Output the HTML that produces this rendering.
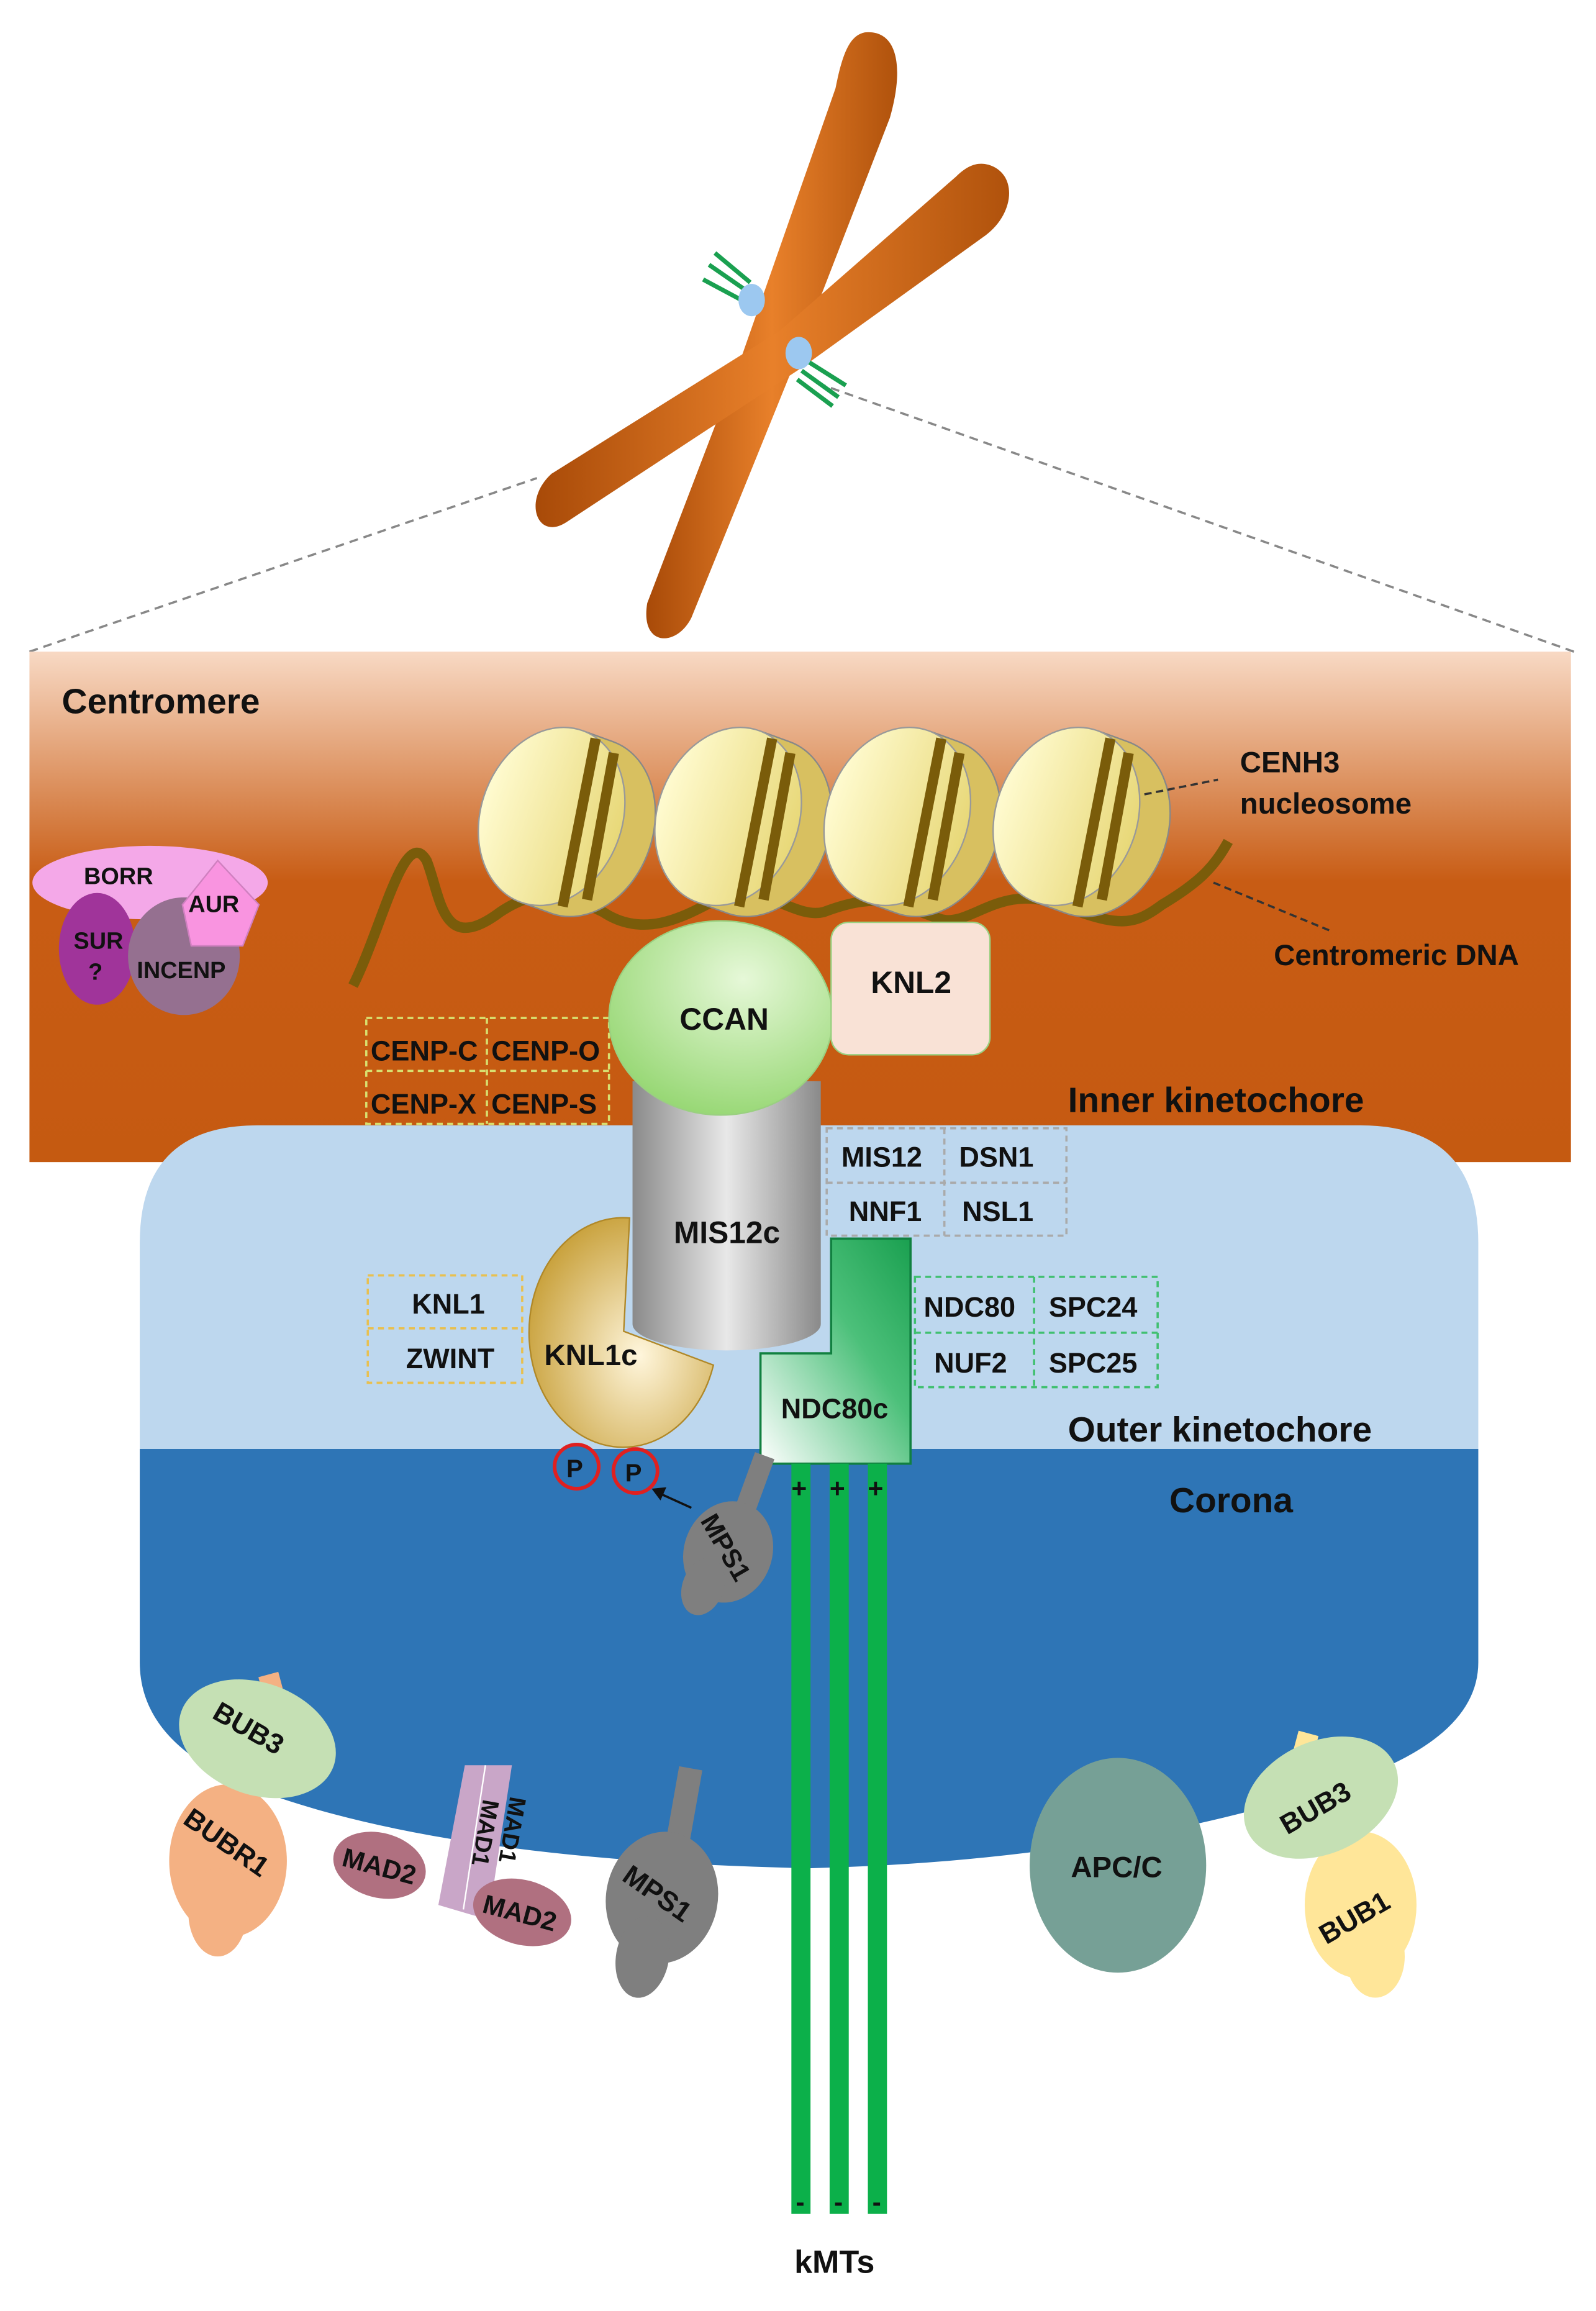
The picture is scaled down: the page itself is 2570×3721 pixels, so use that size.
<!DOCTYPE html>
<html><head><meta charset="utf-8"><style>html,body{margin:0;padding:0;background:#fff}svg{display:block}text{font-family:"Liberation Sans",sans-serif;font-weight:bold;fill:#111}</style></head><body>
<svg width="2570" height="3721" viewBox="0 0 1085 1571" xmlns="http://www.w3.org/2000/svg">
<defs>
<linearGradient id="cen" x1="0" y1="0" x2="0" y2="1"><stop offset="0" stop-color="#f8d9c4"/><stop offset="0.45" stop-color="#c85c14"/><stop offset="1" stop-color="#c55a11"/></linearGradient>
<linearGradient id="chr" x1="0" y1="0" x2="1" y2="0"><stop offset="0" stop-color="#a84a08"/><stop offset="0.5" stop-color="#e8802a"/><stop offset="1" stop-color="#b0520c"/></linearGradient>
<radialGradient id="ccan" cx="0.6" cy="0.3" r="0.8"><stop offset="0" stop-color="#e6f8d8"/><stop offset="1" stop-color="#8fd46a"/></radialGradient>
<linearGradient id="mis" x1="0" y1="0" x2="1" y2="0"><stop offset="0" stop-color="#8a8a8a"/><stop offset="0.5" stop-color="#e8e8e8"/><stop offset="1" stop-color="#8a8a8a"/></linearGradient>
<radialGradient id="knl" cx="0.6" cy="0.6" r="0.7"><stop offset="0" stop-color="#fff6dc"/><stop offset="1" stop-color="#c49a2e"/></radialGradient>
<linearGradient id="ndc" x1="0" y1="1" x2="1" y2="0"><stop offset="0" stop-color="#ffffff"/><stop offset="0.6" stop-color="#4cc07a"/><stop offset="1" stop-color="#1aa050"/></linearGradient>
<linearGradient id="nuc" x1="0" y1="0" x2="1" y2="0"><stop offset="0" stop-color="#fffbd0"/><stop offset="1" stop-color="#e8d878"/></linearGradient>
</defs>
<line x1="20" y1="443" x2="365" y2="325" stroke="#888" stroke-width="1.5" stroke-dasharray="6,4"/>
<line x1="1070" y1="443" x2="560" y2="262" stroke="#888" stroke-width="1.5" stroke-dasharray="6,4"/>
<g>
<path d="M588,22 C610,20 615,45 605,80 L545,235 L470,420 C460,440 435,440 440,410 L505,240 L568,60 C573,35 578,24 588,22 Z" fill="url(#chr)"/>
<path d="M672,112 C692,118 690,145 670,160 L545,250 L385,355 C365,368 355,340 375,322 L530,225 L650,120 C658,112 665,110 672,112 Z" fill="url(#chr)"/>
<g stroke="#1aa050" stroke-width="3"><line x1="478" y1="190" x2="506" y2="205"/><line x1="482" y1="180" x2="508" y2="198"/><line x1="486" y1="172" x2="510" y2="192"/><line x1="548" y1="245" x2="575" y2="262"/><line x1="545" y1="252" x2="570" y2="270"/><line x1="542" y1="258" x2="566" y2="276"/></g>
<ellipse cx="511" cy="204" rx="9" ry="11" fill="#9cc8f0"/><ellipse cx="543" cy="240" rx="9" ry="11" fill="#9cc8f0"/>
</g>
<rect x="20" y="443" width="1048" height="347" fill="url(#cen)"/>
<path d="M175,765 L925,765 Q1005,765 1005,845 L1005,985 L95,985 L95,845 Q95,765 175,765 Z" fill="#bdd7ee"/>
<path d="M95,985 L1005,985 L1005,1130 Q1005,1180 920,1210 Q760,1265 550,1270 Q300,1265 170,1215 Q95,1185 95,1130 Z" fill="#2e75b6"/>
<path d="M240,670 C260,630 275,560 290,585 C300,610 300,650 340,620 C370,600 390,610 410,620 C440,640 470,620 490,610 C520,600 540,625 560,620 C600,605 610,615 640,625 C660,630 680,600 720,615 C760,630 770,630 790,615 C815,600 825,590 835,572" fill="none" stroke="#7a5c0a" stroke-width="7"/>
<g>
<g transform="translate(375,555) rotate(20)"><path d="M0,-62 L22,-62 A48,62 0 0 1 22,62 L0,62 Z" fill="#d8c060" stroke="#888"/><ellipse cx="0" cy="0" rx="48" ry="62" fill="url(#nuc)" stroke="#999" stroke-width="1"/><path d="M10,-60 L28,55" stroke="#7a5c0a" stroke-width="7"/><path d="M25,-55 L42,45" stroke="#7a5c0a" stroke-width="7"/></g>
<g transform="translate(495,555) rotate(20)"><path d="M0,-62 L22,-62 A48,62 0 0 1 22,62 L0,62 Z" fill="#d8c060" stroke="#888"/><ellipse cx="0" cy="0" rx="48" ry="62" fill="url(#nuc)" stroke="#999" stroke-width="1"/><path d="M10,-60 L28,55" stroke="#7a5c0a" stroke-width="7"/><path d="M25,-55 L42,45" stroke="#7a5c0a" stroke-width="7"/></g>
<g transform="translate(610,555) rotate(20)"><path d="M0,-62 L22,-62 A48,62 0 0 1 22,62 L0,62 Z" fill="#d8c060" stroke="#888"/><ellipse cx="0" cy="0" rx="48" ry="62" fill="url(#nuc)" stroke="#999" stroke-width="1"/><path d="M10,-60 L28,55" stroke="#7a5c0a" stroke-width="7"/><path d="M25,-55 L42,45" stroke="#7a5c0a" stroke-width="7"/></g>
<g transform="translate(725,555) rotate(20)"><path d="M0,-62 L22,-62 A48,62 0 0 1 22,62 L0,62 Z" fill="#d8c060" stroke="#888"/><ellipse cx="0" cy="0" rx="48" ry="62" fill="url(#nuc)" stroke="#999" stroke-width="1"/><path d="M10,-60 L28,55" stroke="#7a5c0a" stroke-width="7"/><path d="M25,-55 L42,45" stroke="#7a5c0a" stroke-width="7"/></g>
</g>
<line x1="778" y1="540" x2="828" y2="530" stroke="#333" stroke-width="1.5" stroke-dasharray="5,3"/>
<line x1="825" y1="600" x2="905" y2="633" stroke="#333" stroke-width="1.5" stroke-dasharray="5,3"/>
<text x="42" y="485" font-size="24">Centromere</text>
<text x="843" y="525" font-size="20">CENH3</text>
<text x="843" y="553" font-size="20">nucleosome</text>
<text x="866" y="656" font-size="20">Centromeric DNA</text>
<text x="726" y="756" font-size="24">Inner kinetochore</text>
<text x="726" y="980" font-size="24">Outer kinetochore</text>
<text x="795" y="1028" font-size="24">Corona</text>
<ellipse cx="102" cy="600" rx="80" ry="25" fill="#f4a8e8"/>
<ellipse cx="66" cy="645" rx="26" ry="38" fill="#a0349a"/>
<ellipse cx="125" cy="650" rx="38" ry="40" fill="#957090"/>
<polygon points="148,585 176,615 165,643 130,643 124,615" fill="#f994e0" stroke="#d080c0"/>
<text x="57" y="601" font-size="16">BORR</text>
<text x="128" y="620" font-size="16">AUR</text>
<text x="50" y="645" font-size="16">SUR</text><text x="60" y="666" font-size="16">?</text>
<text x="93" y="665" font-size="16">INCENP</text>
<g fill="none" stroke="#d8e070" stroke-width="1.5" stroke-dasharray="4,3"><rect x="249" y="692" width="165" height="72"/><line x1="331" y1="692" x2="331" y2="764"/><line x1="249" y1="728" x2="414" y2="728"/></g>
<text x="252" y="721" font-size="19">CENP-C</text><text x="334" y="721" font-size="19">CENP-O</text>
<text x="252" y="757" font-size="19">CENP-X</text><text x="334" y="757" font-size="19">CENP-S</text>
<path d="M430,735 L558,735 L558,900 A64,18 0 0 1 430,900 Z" fill="url(#mis)"/>
<ellipse cx="490" cy="692" rx="76" ry="66" fill="url(#ccan)" stroke="#9ad080"/>
<text x="462" y="700" font-size="21">CCAN</text>
<rect x="565" y="627" width="108" height="90" rx="12" fill="#f9e2d6" stroke="#9ad080"/>
<text x="592" y="675" font-size="21">KNL2</text>
<text x="458" y="845" font-size="21">MIS12c</text>
<g fill="none" stroke="#aaa" stroke-width="1.5" stroke-dasharray="4,3"><rect x="562" y="767" width="163" height="73"/><line x1="642" y1="767" x2="642" y2="840"/><line x1="562" y1="804" x2="725" y2="804"/></g>
<text x="572" y="793" font-size="19">MIS12</text><text x="652" y="793" font-size="19">DSN1</text>
<text x="577" y="830" font-size="19">NNF1</text><text x="654" y="830" font-size="19">NSL1</text>
<path d="M424,905 L485,928 A64,78 0 1 1 428,828 Z" fill="url(#knl)" stroke="#b08828"/>
<text x="370" y="928" font-size="20">KNL1c</text>
<g fill="none" stroke="#e8c050" stroke-width="1.5" stroke-dasharray="4,3"><rect x="250" y="867" width="105" height="73"/><line x1="250" y1="903" x2="355" y2="903"/></g>
<text x="280" y="893" font-size="19">KNL1</text><text x="276" y="930" font-size="19">ZWINT</text>
<path d="M565,842 L619,842 L619,995 L517,995 L517,920 L565,920 Z" fill="url(#ndc)" stroke="#118040" stroke-width="1.5"/>
<text x="531" y="964" font-size="19">NDC80c</text>
<g fill="none" stroke="#40c070" stroke-width="1.5" stroke-dasharray="4,3"><rect x="622" y="868" width="165" height="75"/><line x1="703" y1="868" x2="703" y2="943"/><line x1="622" y1="906" x2="787" y2="906"/></g>
<text x="628" y="895" font-size="19">NDC80</text><text x="713" y="895" font-size="19">SPC24</text>
<text x="635" y="933" font-size="19">NUF2</text><text x="713" y="933" font-size="19">SPC25</text>
<g fill="#0cb04a"><rect x="538" y="995" width="13" height="510"/><rect x="564" y="995" width="13" height="510"/><rect x="590" y="995" width="13" height="510"/></g>
<g font-size="18"><text x="538" y="1018">+</text><text x="564" y="1018">+</text><text x="590" y="1018">+</text><text x="541" y="1503">-</text><text x="567" y="1503">-</text><text x="593" y="1503">-</text></g>
<text x="540" y="1545" font-size="22">kMTs</text>
<circle cx="392" cy="997" r="15" fill="#2e75b6" stroke="#e02020" stroke-width="2.5"/><text x="385" y="1004" font-size="17">P</text>
<circle cx="432" cy="1000" r="15" fill="#2e75b6" stroke="#e02020" stroke-width="2.5"/><text x="425" y="1007" font-size="17">P</text>
<line x1="470" y1="1025" x2="448" y2="1015" stroke="#111" stroke-width="1.5"/><polygon points="443,1012 453,1011 449,1020" fill="#111"/>
<g transform="translate(495,1055) rotate(20)"><rect x="-6" y="-70" width="14" height="50" fill="#7f7f7f"/><ellipse cx="0" cy="0" rx="30" ry="35" fill="#7f7f7f"/><ellipse cx="-8" cy="28" rx="14" ry="20" fill="#7f7f7f"/><text x="-28" y="6" font-size="18" transform="rotate(40)">MPS1</text></g>
<g transform="translate(450,1290) rotate(10)"><rect x="-4" y="-90" width="16" height="70" fill="#7f7f7f"/><ellipse cx="0" cy="0" rx="38" ry="45" fill="#7f7f7f"/><ellipse cx="-6" cy="42" rx="18" ry="28" fill="#7f7f7f"/><text x="-30" y="6" font-size="19" transform="rotate(25)">MPS1</text></g>
<rect x="178" y="1138" width="14" height="20" fill="#f4b183" transform="rotate(-15 185 1148)"/>
<ellipse cx="155" cy="1265" rx="40" ry="52" fill="#f4b183"/><ellipse cx="148" cy="1300" rx="20" ry="30" fill="#f4b183"/>
<ellipse cx="175" cy="1182" rx="55" ry="38" fill="#c5e0b4" transform="rotate(20 175 1182)"/>
<text x="140" y="1180" font-size="19" transform="rotate(30 165 1180)">BUB3</text>
<text x="120" y="1260" font-size="19" transform="rotate(35 155 1255)">BUBR1</text>
<polygon points="316,1200 348,1200 332,1305 298,1295" fill="#c9a6c8"/>
<line x1="330" y1="1200" x2="315" y2="1298" stroke="#fff" stroke-width="1"/>
<ellipse cx="258" cy="1268" rx="32" ry="22" fill="#b07080" transform="rotate(15 258 1268)"/>
<ellipse cx="355" cy="1300" rx="34" ry="22" fill="#b07080" transform="rotate(15 355 1300)"/>
<text x="232" y="1275" font-size="18" transform="rotate(15 258 1270)">MAD2</text>
<text x="328" y="1307" font-size="18" transform="rotate(15 355 1300)">MAD2</text>
<text x="302" y="1215" font-size="16" transform="rotate(100 312 1230)">MAD1</text>
<text x="318" y="1215" font-size="16" transform="rotate(100 330 1230)">MAD1</text>
<ellipse cx="760" cy="1268" rx="60" ry="73" fill="#76a096"/>
<text x="728" y="1276" font-size="20">APC/C</text>
<rect x="880" y="1178" width="14" height="20" fill="#ffe699" transform="rotate(15 887 1188)"/>
<ellipse cx="925" cy="1295" rx="38" ry="50" fill="#ffe699"/><ellipse cx="935" cy="1330" rx="20" ry="28" fill="#ffe699"/>
<ellipse cx="898" cy="1222" rx="55" ry="38" fill="#c5e0b4" transform="rotate(-25 898 1222)"/>
<text x="868" y="1235" font-size="19" transform="rotate(-30 895 1228)">BUB3</text>
<text x="893" y="1310" font-size="19" transform="rotate(-30 920 1300)">BUB1</text>
</svg>
</body></html>
